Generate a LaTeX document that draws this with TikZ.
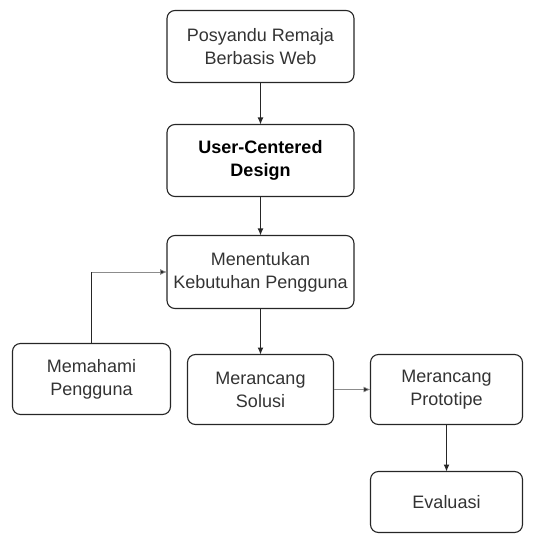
\documentclass[tikz,border=0pt]{standalone}
\usepackage{fontspec}
\setmainfont{Liberation Sans}
\usetikzlibrary{positioning, arrows.meta}

\begin{document}
\begin{tikzpicture}
\tikzstyle{main}=[rectangle, rounded corners=8pt, draw=black!85, line width=1.1pt, align=center, inner sep=0pt, outer sep=0pt, text=black!80, font=\fontsize{18}{23}\selectfont, minimum width=187pt, minimum height=72pt]
\tikzstyle{connect}=[-{Latex[length=7pt,width=6pt]}, line width=1.1pt, black!85]
\tikzstyle{faint}=[-{Latex[length=7pt,width=6pt,fill=black!85]}, line width=0.7pt, black!45]
    \useasboundingbox (0,0) rectangle (540pt,-534pt);
    \node[main] (web) at (260.5pt,-46.5pt) {Posyandu Remaja\\Berbasis Web};
    \node[main, font=\fontsize{18}{23}\selectfont\bfseries, text=black] (ucd) [below=42pt of web] {User-Centered\\Design};
    \node[main, minimum height=73pt] (kebutuhan) [below=39pt of ucd] {Menentukan\\Kebutuhan Pengguna};
    \node[main, minimum width=146pt, minimum height=70pt] (solusi) [below=46pt of kebutuhan] {Merancang\\Solusi};
    \node[main, minimum width=152pt, minimum height=70pt] (prototipe) [right=37pt of solusi] {Merancang\\Prototipe};
    \node[main, minimum width=152pt, minimum height=61pt] (evaluasi) [below=47pt of prototipe] {Evaluasi};
    \node[main, minimum width=158pt, minimum height=71pt] (memahami) [left=17pt of solusi, yshift=10.5pt] {Memahami\\Pengguna};
    \coordinate (belok) at (memahami.north |- kebutuhan.west);
    \path (web) edge [connect] (ucd)
          (ucd) edge [connect] (kebutuhan)
          (kebutuhan) edge [connect] (solusi)
          (prototipe) edge [connect] (evaluasi)
          (solusi) edge [faint] (prototipe);
    \draw[line width=1.1pt, black!85] (memahami.north) -- (belok);
    \draw[faint] (belok) -- (kebutuhan.west);
\end{tikzpicture}
\end{document}
